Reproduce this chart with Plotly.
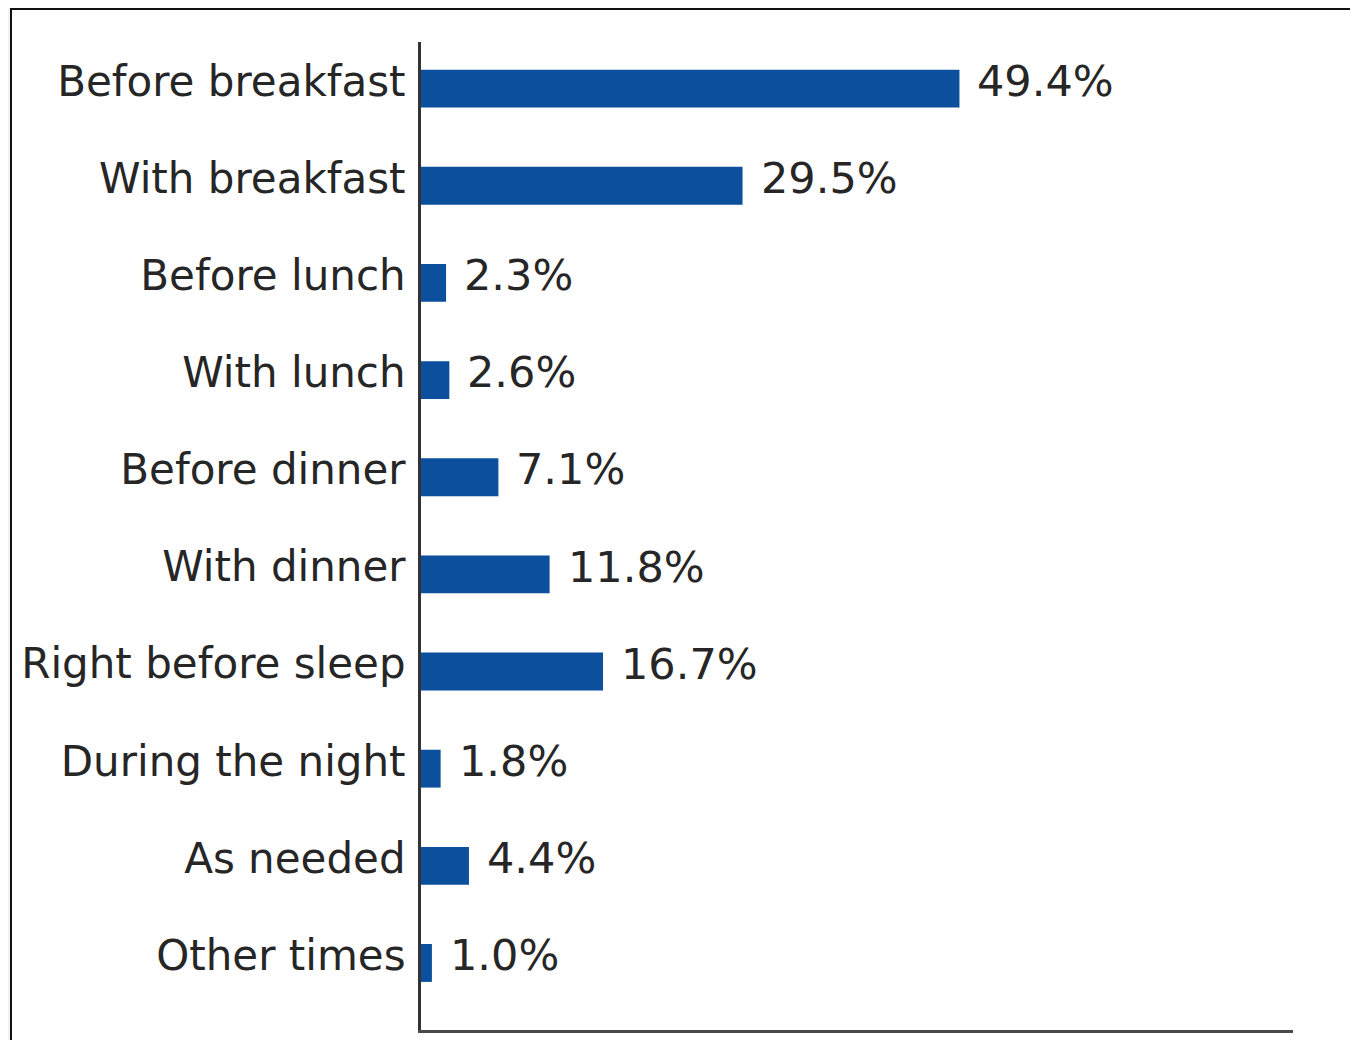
import plotly.graph_objects as go

categories = ["Before breakfast", "With breakfast", "Before lunch", "With lunch",
              "Before dinner", "With dinner", "Right before sleep", "During the night",
              "As needed", "Other times"]
values = [49.4, 29.5, 2.3, 2.6, 7.1, 11.8, 16.7, 1.8, 4.4, 1.0]
value_labels = ["49.4%", "29.5%", "2.3%", "2.6%", "7.1%", "11.8%", "16.7%", "1.8%", "4.4%", "1.0%"]

FONT = "DejaVu Sans"
TEXT_COLOR = "#262626"
BAR_COLOR = "#0b4f9d"
# page body has an 8px margin; size the figure so the page fits the window
OFF = 8
W, H = 1358 - 2 * OFF, 1048 - 2 * OFF
L, T = 421 - OFF, 42 - OFF
R = W - (1293 - OFF)
B = H - (1030 - OFF)

fig = go.Figure()
fig.add_trace(go.Bar(
    x=values, y=categories, orientation="h",
    marker=dict(color=BAR_COLOR, line=dict(width=0)),
    width=0.39, offset=-0.115, hoverinfo="skip",
))

for c, v, t in zip(categories, values, value_labels):
    fig.add_annotation(x=v, y=c, text=t, showarrow=False, xanchor="left",
                       xshift=16, font=dict(family=FONT, size=43, color=TEXT_COLOR))

pw = W - L - R
ph = H - T - B
fig.add_shape(type="rect", xref="paper", yref="paper", layer="below",
              x0=(11 - OFF - L) / pw, x1=(W + 10 - L) / pw,
              y0=(H - B - (H + 10)) / ph, y1=(H - B - 1) / ph,
              fillcolor="white", line=dict(color="#111111", width=2))

fig.update_layout(
    width=W, height=H,
    margin=dict(l=L, r=R, t=T, b=B, pad=0, autoexpand=False),
    paper_bgcolor="#f2f2f2", plot_bgcolor="white",
    showlegend=False,
    font=dict(family=FONT, size=43, color=TEXT_COLOR),
)
fig.update_xaxes(range=[0, 80], showgrid=False, zeroline=False, showticklabels=False,
                 ticks="", showline=True, linecolor="#4a4a4a", linewidth=3,
                 fixedrange=True, automargin=False)
fig.update_yaxes(categoryorder="array", categoryarray=categories,
                 range=[9.77, -0.40], showgrid=False, zeroline=False, ticks="",
                 showline=True, linecolor="#333333", linewidth=3,
                 ticklabelstandoff=4, automargin=False,
                 tickfont=dict(family=FONT, size=42, color=TEXT_COLOR), fixedrange=True)

fig.write_html("out.html")
